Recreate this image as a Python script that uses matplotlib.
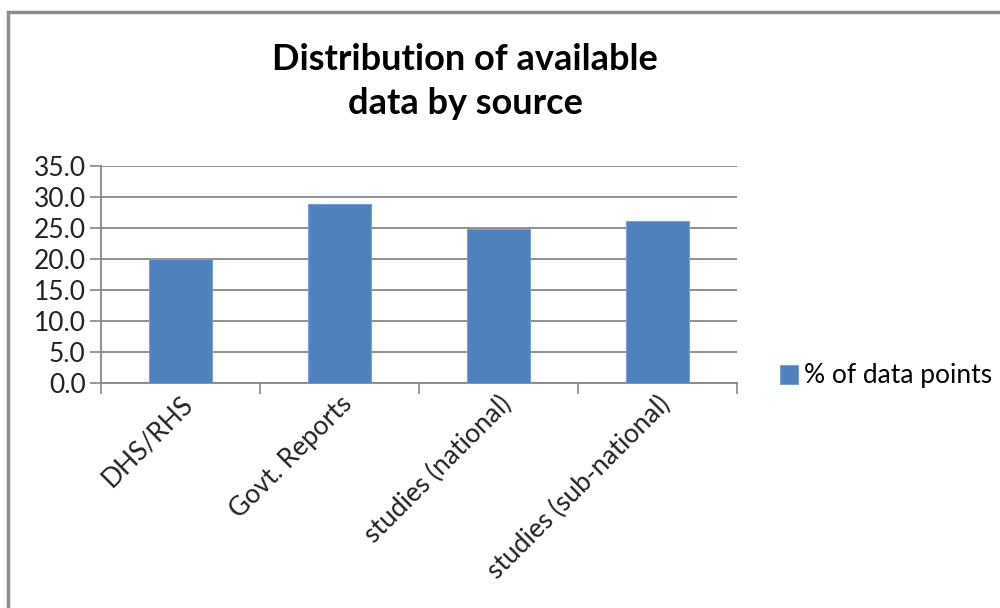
#!/usr/bin/env python3
"""
Bar chart: distribution of available data by source.
"""

import matplotlib
matplotlib.use('Agg')
import matplotlib.pyplot as plt
from matplotlib.patches import Rectangle

categories = ['DHS/RHS', 'Govt. Reports', 'studies (national)', 'studies (sub-national)']
pct_data_points = [20.0, 28.8, 24.9, 26.2]
yticks = [0, 5, 10, 15, 20, 25, 30, 35]
series_name = '% of data points'
title = 'Distribution of available\ndata by source'

BAR_COLOR = '#4f81bd'
GRID_COLOR = '#878787'

plt.rcParams['font.family'] = ['Lato', 'DejaVu Sans']

fig = plt.figure(figsize=(10, 6.08), dpi=100)

# outer chart frame (runs off the right/bottom of the picture)
fig.patches.append(Rectangle((8 / 1000, -0.1), 1.2, 1 - 12 / 608 + 0.1,
                             transform=fig.transFigure, fill=False,
                             edgecolor='#8c8c8c', linewidth=2.5))

ax = fig.add_axes([101 / 1000, 1 - 383 / 608, (737 - 101) / 1000, (383 - 166) / 608])

x = list(range(len(categories)))
ax.bar(x, pct_data_points, width=0.4, color=BAR_COLOR, zorder=3,
       edgecolor='#7a9fd0', linewidth=0.8, label=series_name)

ax.set_xlim(-0.5, len(categories) - 0.5)
ax.set_ylim(0, 35)
ax.set_yticks(yticks)
ax.set_yticklabels([f'{v:.1f}' for v in yticks], fontsize=19, color='#222222')
ax.yaxis.grid(True, color=GRID_COLOR, linewidth=1.3, zorder=0)
ax.tick_params(axis='y', length=8, width=1.2, color=GRID_COLOR, pad=3)

# x ticks sit on category boundaries, labels are placed at centres
ax.set_xticks([i - 0.5 for i in range(len(categories) + 1)])
ax.set_xticklabels([])
ax.tick_params(axis='x', length=8, width=1.2, color=GRID_COLOR)
ax.set_xticks(x, minor=True)
ax.set_xticklabels(categories, minor=True, rotation=45, ha='right',
                   rotation_mode='anchor', fontsize=19, color='#222222')
ax.tick_params(axis='x', which='minor', length=0, pad=6)

for side in ['top', 'right']:
    ax.spines[side].set_visible(False)
for side in ['left', 'bottom']:
    ax.spines[side].set_color(GRID_COLOR)
    ax.spines[side].set_linewidth(1.3)

fig.text(0.465, 0.866, title, ha='center', va='center', fontsize=26,
         fontweight='bold', linespacing=1.38)

fig.legend(loc='center left', bbox_to_anchor=(0.780, 1 - 376 / 608),
           frameon=False, fontsize=19, handlelength=0.7, handleheight=0.7,
           handletextpad=0.2, borderaxespad=0, borderpad=0)

fig.savefig('out.png', dpi=100)
